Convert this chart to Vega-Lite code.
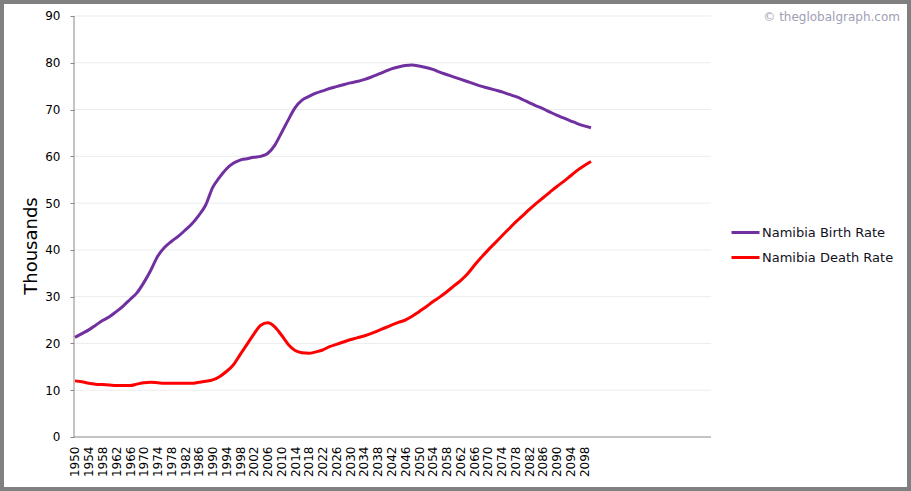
{
  "$schema": "https://vega.github.io/schema/vega-lite/v6.json",
  "width": 911,
  "height": 491,
  "autosize": {"type": "none"},
  "padding": 0,
  "background": "white",
  "config": {
    "view": {"stroke": "#808080", "strokeWidth": 8, "fill": "white"},
    "font": "DejaVu Sans",
    "axis": {"labelColor": "#000000", "labelFont": "DejaVu Sans", "titleFont": "DejaVu Sans"},
    "axisX": {"labelOverlap": false, "labelFlush": false, "labelBound": false}
  },
  "title": {
    "text": "© theglobalgraph.com",
    "anchor": "end",
    "frame": "group",
    "orient": "top",
    "offset": 0,
    "baseline": "middle",
    "dx": -11,
    "dy": 29,
    "fontSize": 12,
    "fontWeight": "normal",
    "font": "DejaVu Sans",
    "color": "#a0a0b4"
  },
  "layer": [
    {
      "data": {"values": [{"g": 10}, {"g": 20}, {"g": 30}, {"g": 40}, {"g": 50}, {"g": 60}, {"g": 70}, {"g": 80}, {"g": 90}]},
      "mark": {"type": "rule", "color": "#ececec", "strokeWidth": 1},
      "encoding": {
        "y": {
          "field": "g",
          "type": "quantitative",
          "scale": {"domain": [-11.544, 93.42], "nice": false, "zero": false},
          "axis": {
            "title": "Thousands",
            "titleFontSize": 18,
            "titleFontWeight": "normal",
            "titleColor": "#000000",
            "titlePadding": 4,
            "offset": -74,
            "domain": false,
            "grid": false,
            "values": [0, 10, 20, 30, 40, 50, 60, 70, 80, 90],
            "tickCount": 20,
            "tickColor": "#888888",
            "tickSize": 4,
            "labelPadding": 10,
            "labelFontSize": 12
          }
        },
        "x": {
          "datum": 1949.71,
          "type": "quantitative",
          "scale": {"domain": [1928.2, 2193.02], "nice": false, "zero": false},
          "axis": {
            "title": null,
            "grid": false,
            "domain": false,
            "ticks": false,
            "offset": -54,
            "values": [1950, 1954, 1958, 1962, 1966, 1970, 1974, 1978, 1982, 1986, 1990, 1994, 1998, 2002, 2006, 2010, 2014, 2018, 2022, 2026, 2030, 2034, 2038, 2042, 2046, 2050, 2054, 2058, 2062, 2066, 2070, 2074, 2078, 2082, 2086, 2090, 2094, 2098],
            "tickCount": 100,
            "format": "d",
            "labelAngle": 270,
            "labelAlign": "right",
            "labelBaseline": "middle",
            "labelFontSize": 12,
            "labelPadding": 9,
            "labelOverlap": false,
            "labelFlush": false
          }
        },
        "x2": {"datum": 2134.9}
      }
    },
    {
      "data": {"values": [{}]},
      "mark": {"type": "rule", "color": "#888888", "strokeWidth": 1},
      "encoding": {
        "x": {"datum": 1949.71, "type": "quantitative"},
        "y": {"datum": 0, "type": "quantitative"},
        "y2": {"datum": 90}
      }
    },
    {
      "data": {"values": [{}]},
      "mark": {"type": "rule", "color": "#888888", "strokeWidth": 1},
      "encoding": {
        "y": {"datum": 0, "type": "quantitative"},
        "x": {"datum": 1949.71, "type": "quantitative"},
        "x2": {"datum": 2134.9}
      }
    },
    {
      "data": {
        "values": [
          {"year": 1950, "birth": 21.3, "death": 12.0},
          {"year": 1952, "birth": 22.1, "death": 11.8},
          {"year": 1954, "birth": 22.9, "death": 11.5},
          {"year": 1956, "birth": 23.9, "death": 11.3},
          {"year": 1958, "birth": 24.9, "death": 11.2},
          {"year": 1960, "birth": 25.7, "death": 11.1},
          {"year": 1962, "birth": 26.8, "death": 11.0},
          {"year": 1964, "birth": 28.0, "death": 11.0},
          {"year": 1966, "birth": 29.4, "death": 11.0},
          {"year": 1968, "birth": 30.8, "death": 11.3},
          {"year": 1970, "birth": 33.0, "death": 11.6},
          {"year": 1972, "birth": 35.6, "death": 11.7},
          {"year": 1974, "birth": 38.6, "death": 11.6},
          {"year": 1976, "birth": 40.5, "death": 11.5},
          {"year": 1978, "birth": 41.8, "death": 11.5},
          {"year": 1980, "birth": 42.9, "death": 11.5},
          {"year": 1982, "birth": 44.2, "death": 11.5},
          {"year": 1984, "birth": 45.6, "death": 11.5},
          {"year": 1986, "birth": 47.4, "death": 11.7},
          {"year": 1988, "birth": 49.6, "death": 11.9},
          {"year": 1990, "birth": 53.3, "death": 12.2},
          {"year": 1992, "birth": 55.5, "death": 12.9},
          {"year": 1994, "birth": 57.3, "death": 14.0},
          {"year": 1996, "birth": 58.5, "death": 15.4},
          {"year": 1998, "birth": 59.2, "death": 17.6},
          {"year": 2000, "birth": 59.5, "death": 19.8},
          {"year": 2002, "birth": 59.8, "death": 22.0},
          {"year": 2004, "birth": 60.0, "death": 23.9},
          {"year": 2006, "birth": 60.6, "death": 24.4},
          {"year": 2008, "birth": 62.3, "death": 23.6},
          {"year": 2010, "birth": 65.0, "death": 21.8},
          {"year": 2012, "birth": 67.8, "death": 19.8},
          {"year": 2014, "birth": 70.4, "death": 18.5},
          {"year": 2016, "birth": 72.0, "death": 18.0},
          {"year": 2018, "birth": 72.8, "death": 17.9},
          {"year": 2020, "birth": 73.5, "death": 18.2},
          {"year": 2022, "birth": 74.0, "death": 18.6},
          {"year": 2024, "birth": 74.5, "death": 19.3},
          {"year": 2026, "birth": 74.9, "death": 19.8},
          {"year": 2028, "birth": 75.3, "death": 20.3},
          {"year": 2030, "birth": 75.7, "death": 20.8},
          {"year": 2032, "birth": 76.0, "death": 21.2},
          {"year": 2034, "birth": 76.4, "death": 21.6},
          {"year": 2036, "birth": 76.9, "death": 22.1},
          {"year": 2038, "birth": 77.5, "death": 22.7},
          {"year": 2040, "birth": 78.1, "death": 23.3},
          {"year": 2042, "birth": 78.7, "death": 23.9},
          {"year": 2044, "birth": 79.1, "death": 24.5},
          {"year": 2046, "birth": 79.4, "death": 25.0},
          {"year": 2048, "birth": 79.5, "death": 25.8},
          {"year": 2050, "birth": 79.3, "death": 26.8},
          {"year": 2052, "birth": 79.0, "death": 27.8},
          {"year": 2054, "birth": 78.6, "death": 28.9},
          {"year": 2056, "birth": 78.0, "death": 29.9},
          {"year": 2058, "birth": 77.5, "death": 31.0},
          {"year": 2060, "birth": 77.0, "death": 32.2},
          {"year": 2062, "birth": 76.5, "death": 33.4},
          {"year": 2064, "birth": 76.0, "death": 34.8},
          {"year": 2066, "birth": 75.5, "death": 36.6},
          {"year": 2068, "birth": 75.0, "death": 38.3},
          {"year": 2070, "birth": 74.6, "death": 39.9},
          {"year": 2072, "birth": 74.2, "death": 41.4},
          {"year": 2074, "birth": 73.8, "death": 42.9},
          {"year": 2076, "birth": 73.3, "death": 44.4},
          {"year": 2078, "birth": 72.8, "death": 45.9},
          {"year": 2080, "birth": 72.2, "death": 47.2},
          {"year": 2082, "birth": 71.5, "death": 48.6},
          {"year": 2084, "birth": 70.8, "death": 49.9},
          {"year": 2086, "birth": 70.2, "death": 51.1},
          {"year": 2088, "birth": 69.5, "death": 52.3},
          {"year": 2090, "birth": 68.8, "death": 53.5},
          {"year": 2092, "birth": 68.2, "death": 54.6},
          {"year": 2094, "birth": 67.6, "death": 55.8},
          {"year": 2096, "birth": 67.0, "death": 57.0},
          {"year": 2098, "birth": 66.5, "death": 58.0},
          {"year": 2100, "birth": 66.1, "death": 58.9}
        ]
      },
      "transform": [
        {"fold": ["birth", "death"], "as": ["series", "value"]}
      ],
      "mark": {"type": "line", "strokeWidth": 3, "interpolate": "monotone"},
      "encoding": {
        "x": {"field": "year", "type": "quantitative"},
        "y": {"field": "value", "type": "quantitative"},
        "color": {
          "field": "series",
          "type": "nominal",
          "scale": {"domain": ["birth", "death"], "range": ["#7030a0", "#ff0000"]},
          "legend": {
            "title": null,
            "orient": "none",
            "legendX": 730,
            "legendY": 217,
            "symbolType": "stroke",
            "symbolSize": 784,
            "symbolStrokeWidth": 3,
            "labelOffset": 1,
            "labelFontSize": 13,
            "labelColor": "#111122",
            "rowPadding": 2,
            "labelExpr": "datum.label == 'birth' ? 'Namibia Birth Rate' : 'Namibia Death Rate'"
          }
        }
      }
    }
  ]
}
